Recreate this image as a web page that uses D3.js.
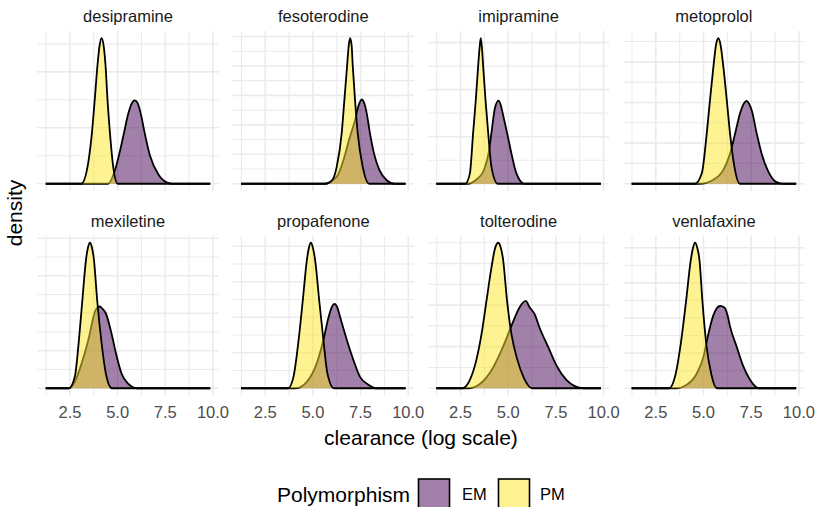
<!DOCTYPE html>
<html lang="en">
<head>
    <meta charset="UTF-8">
    <title>Clearance density by drug</title>
    <script src="https://d3js.org/d3.v7.min.js"></script>
    <style>
        body {
            margin: 0;
            background: white;
        }
        svg {
            display: block;
            font-family: "Liberation Sans", Arial, sans-serif;
        }
        .grid-major {
            stroke: #ebebeb;
            stroke-width: 1.6;
        }
        .grid-minor {
            stroke: #ebebeb;
            stroke-width: 1.1;
        }
        .strip {
            font-size: 16.5px;
            fill: #1a1a1a;
        }
        .tick-label {
            font-size: 16.5px;
            fill: #4d4d4d;
        }
        .axis-title {
            font-size: 21px;
            fill: black;
        }
    </style>
</head>
<body>
    <svg width="818" height="507"></svg>
    <script>
        // Facets, groups and axis ticks
        const drugs = ["desipramine", "fesoterodine", "imipramine", "metoprolol",
                       "mexiletine", "propafenone", "tolterodine", "venlafaxine"];
        const groups = ["EM", "PM"];
        const groupColors = ["#440154", "#FDE725"];
        const xTicks = [2.5, 5.0, 7.5, 10.0];
        const dataRange = [1.23, 9.86];   // density is evaluated over the whole x range
        const yBreakStep = [0.5, 0.5, 0.5, 0.5, 0.5, 0.5, 0.2, 0.5];

        // Density curves: [clearance, density]
        const emCurves = [
            [[4.5,0],[4.86,0.12],[5.12,0.29],[5.33,0.45],[5.55,0.62],[5.72,0.71],[5.9,0.745],[6.05,0.72],[6.25,0.6],[6.4,0.47],[6.7,0.25],[7.15,0.08],[7.6,0.01],[7.9,0]],
            [[5.6,0],[6.25,0.12],[6.6,0.40],[6.9,0.75],[7.21,1.08],[7.38,1.31],[7.56,1.43],[7.7,1.36],[7.82,1.2],[7.99,0.86],[8.2,0.52],[8.49,0.23],[8.87,0.06],[9.3,0]],
            [[2.9,0],[3.3,0.04],[3.69,0.13],[4.0,0.36],[4.12,0.54],[4.3,0.8],[4.49,0.883],[4.62,0.83],[4.73,0.73],[4.94,0.54],[5.17,0.32],[5.43,0.11],[5.85,0]],
            [[4.8,0],[5.52,0.05],[6.04,0.17],[6.39,0.37],[6.66,0.62],[6.92,0.87],[7.1,0.98],[7.26,1.02],[7.4,0.98],[7.52,0.91],[7.79,0.62],[8.05,0.37],[8.4,0.15],[8.83,0.02],[9.2,0]],
            [[2.45,0],[2.76,0.09],[3.11,0.33],[3.46,0.64],[3.81,1.02],[3.95,1.08],[4.07,1.09],[4.2,1.06],[4.38,1.0],[4.68,0.73],[4.91,0.47],[5.2,0.2],[5.55,0.06],[6.0,0]],
            [[4.1,0],[4.68,0.09],[5.2,0.35],[5.55,0.68],[5.82,1.0],[6.0,1.15],[6.13,1.19],[6.28,1.14],[6.43,1.0],[6.78,0.68],[7.12,0.40],[7.47,0.16],[7.91,0.05],[8.3,0]],
            [[2.95,0],[3.51,0.02],[4.21,0.10],[4.73,0.20],[5.17,0.30],[5.6,0.39],[5.92,0.42],[6.12,0.39],[6.39,0.355],[6.65,0.29],[7.09,0.2],[7.53,0.11],[8.05,0.04],[8.49,0.01],[8.95,0]],
            [[3.6,0],[4.12,0.05],[4.65,0.21],[5.0,0.45],[5.26,0.78],[5.52,1.04],[5.7,1.14],[5.87,1.17],[6.1,1.15],[6.25,1.05],[6.39,0.88],[6.74,0.59],[7.09,0.31],[7.44,0.12],[7.9,0]]
        ];
        const pmCurves = [
            [[3.1,0],[3.4,0.13],[3.65,0.45],[3.8,0.75],[3.95,1.07],[4.06,1.24],[4.16,1.30],[4.27,1.23],[4.37,1.05],[4.47,0.75],[4.6,0.45],[4.77,0.15],[5.0,0]],
            [[5.7,0],[6.05,0.08],[6.25,0.29],[6.51,0.86],[6.65,1.42],[6.79,1.99],[6.88,2.35],[6.95,2.47],[7.03,2.35],[7.09,2.0],[7.21,1.42],[7.35,0.86],[7.61,0.29],[7.95,0]],
            [[2.75,0],[2.99,0.11],[3.16,0.54],[3.3,0.89],[3.42,1.24],[3.5,1.45],[3.56,1.546],[3.62,1.45],[3.69,1.24],[3.81,0.89],[3.95,0.54],[4.12,0.18],[4.45,0]],
            [[4.55,0],[4.91,0.13],[5.17,0.62],[5.34,1.03],[5.52,1.44],[5.65,1.7],[5.78,1.79],[5.9,1.7],[6.04,1.44],[6.22,1.03],[6.39,0.62],[6.62,0.21],[6.9,0]],
            [[2.45,0],[2.76,0.16],[2.97,0.64],[3.15,1.17],[3.34,1.71],[3.45,1.88],[3.55,1.94],[3.65,1.88],[3.76,1.71],[3.93,1.17],[4.16,0.6],[4.38,0.2],[4.7,0]],
            [[3.7,0],[3.98,0.16],[4.25,0.68],[4.47,1.24],[4.68,1.8],[4.79,1.98],[4.89,2.05],[5.0,1.98],[5.12,1.8],[5.33,1.24],[5.55,0.68],[5.76,0.21],[6.1,0]],
            [[2.6,0],[2.99,0.04],[3.34,0.14],[3.6,0.26],[3.86,0.42],[4.12,0.58],[4.3,0.67],[4.47,0.70],[4.6,0.68],[4.73,0.62],[4.94,0.42],[5.17,0.26],[5.47,0.14],[5.82,0.05],[6.25,0]],
            [[3.2,0],[3.51,0.17],[3.81,0.64],[4.09,1.25],[4.33,1.82],[4.45,2.0],[4.56,2.07],[4.67,2.0],[4.79,1.82],[4.94,1.25],[5.14,0.64],[5.4,0.21],[5.7,0]]
        ];

        // Layout
        const panelLeft = 37.5, colStep = 195.3, panelW = 181;
        const rowTops = [31, 235.5], panelH = 160;

        const svg = d3.select("svg");

        // Shared x scale with ggplot-style 5% expansion
        const pad = 0.05 * (dataRange[1] - dataRange[0]);
        const x = d3.scaleLinear()
                    .domain([dataRange[0] - pad, dataRange[1] + pad])
                    .range([0, panelW]);

        const xStep = xTicks[1] - xTicks[0];
        const xMinor = xTicks.map(t => t - xStep / 2)
                             .filter(t => t >= x.domain()[0] && t <= x.domain()[1]);

        // Add zero baseline across the full evaluated range
        function fullCurve(pts) {
            return [[dataRange[0], 0], ...pts, [dataRange[1], 0]];
        }

        drugs.forEach((drug, i) => {
            const col = i % 4, row = Math.floor(i / 4);
            const g = svg.append("g")
                         .attr("transform", `translate(${panelLeft + col * colStep},${rowTops[row]})`);

            const curves = [emCurves[i], pmCurves[i]].map(fullCurve);
            const ymax = d3.max(curves, c => d3.max(c, d => d[1]));
            const y = d3.scaleLinear()
                        .domain([-0.05 * ymax, 1.05 * ymax])
                        .range([panelH, 0]);

            const step = yBreakStep[i];
            const yMajor = d3.range(0, y.domain()[1] + 1e-9, step);
            const yMinor = yMajor.map(t => t + step / 2).filter(t => t <= y.domain()[1]);

            // Grid lines
            g.selectAll(".ymin").data(yMinor).enter().append("line")
             .attr("class", "grid-minor")
             .attr("x1", 0).attr("x2", panelW)
             .attr("y1", d => y(d)).attr("y2", d => y(d));
            g.selectAll(".xmin").data(xMinor).enter().append("line")
             .attr("class", "grid-minor")
             .attr("y1", 0).attr("y2", panelH)
             .attr("x1", d => x(d)).attr("x2", d => x(d));
            g.selectAll(".ymaj").data(yMajor).enter().append("line")
             .attr("class", "grid-major")
             .attr("x1", 0).attr("x2", panelW)
             .attr("y1", d => y(d)).attr("y2", d => y(d));
            g.selectAll(".xmaj").data(xTicks).enter().append("line")
             .attr("class", "grid-major")
             .attr("y1", 0).attr("y2", panelH)
             .attr("x1", d => x(d)).attr("x2", d => x(d));

            const area = d3.area()
                           .x(d => x(d[0]))
                           .y0(y(0))
                           .y1(d => y(d[1]))
                           .curve(d3.curveMonotoneX);
            const line = d3.line()
                           .x(d => x(d[0]))
                           .y(d => y(d[1]))
                           .curve(d3.curveMonotoneX);

            // EM first, then PM on top: fill + outline per group
            curves.forEach((c, k) => {
                g.append("path")
                 .attr("d", area(c))
                 .attr("fill", groupColors[k])
                 .attr("fill-opacity", 0.5);
                g.append("path")
                 .attr("d", line(c))
                 .attr("fill", "none")
                 .attr("stroke", "black")
                 .attr("stroke-width", 1.8)
                 .attr("stroke-linejoin", "round");
            });

            // Strip label
            g.append("text")
             .attr("class", "strip")
             .attr("x", panelW / 2)
             .attr("y", -15)
             .attr("text-anchor", "middle")
             .attr("dominant-baseline", "central")
             .text(drug);

            // x tick labels only on bottom row
            if (row === 1) {
                g.selectAll(".tl").data(xTicks).enter().append("text")
                 .attr("class", "tick-label")
                 .attr("x", d => x(d))
                 .attr("y", panelH + 16.5)
                 .attr("text-anchor", "middle")
                 .attr("dominant-baseline", "central")
                 .text(d => d.toFixed(1));
            }
        });

        // Axis titles
        svg.append("text")
           .attr("class", "axis-title")
           .attr("x", 421)
           .attr("y", 437)
           .attr("text-anchor", "middle")
           .attr("dominant-baseline", "central")
           .text("clearance (log scale)");

        svg.append("text")
           .attr("class", "axis-title")
           .attr("transform", "translate(14,213) rotate(-90)")
           .attr("text-anchor", "middle")
           .attr("dominant-baseline", "central")
           .text("density");

        // Legend
        const legend = svg.append("g").attr("transform", "translate(0,494)");
        legend.append("text")
              .attr("class", "axis-title")
              .attr("x", 277)
              .attr("dominant-baseline", "central")
              .text("Polymorphism");

        const keyX = [418.5, 498.5], labelX = [462, 540];
        groups.forEach((grp, k) => {
            legend.append("rect")
                  .attr("x", keyX[k])
                  .attr("y", -15)
                  .attr("width", 31)
                  .attr("height", 31)
                  .attr("fill", groupColors[k])
                  .attr("fill-opacity", 0.5)
                  .attr("stroke", "black")
                  .attr("stroke-width", 1.6);
            legend.append("text")
                  .attr("class", "tick-label")
                  .style("fill", "black")
                  .attr("x", labelX[k])
                  .attr("dominant-baseline", "central")
                  .text(grp);
        });
    </script>
</body>
</html>
